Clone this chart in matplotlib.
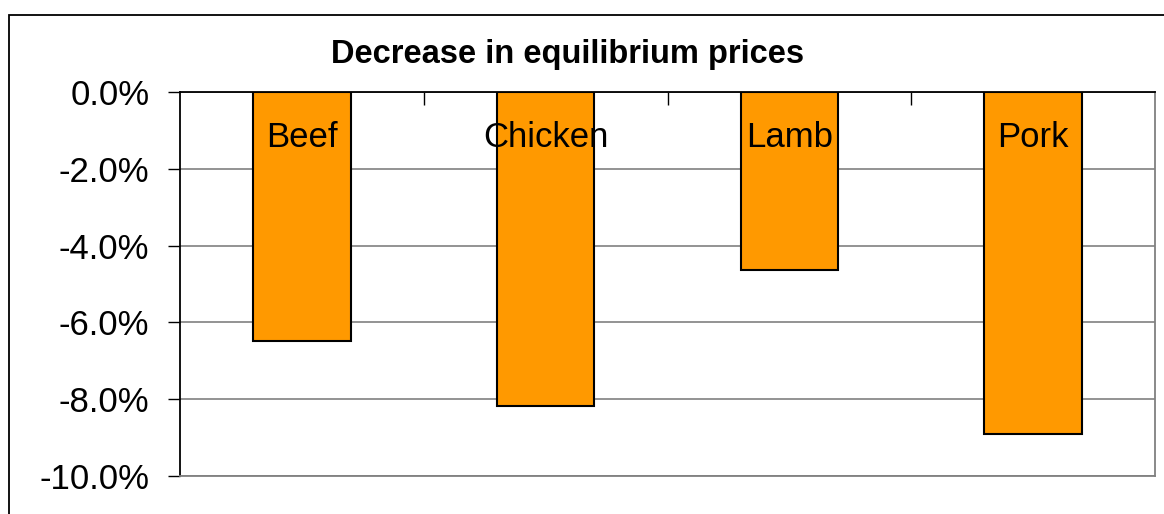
import matplotlib.pyplot as plt
from matplotlib.patches import Rectangle
from matplotlib.ticker import FuncFormatter, FixedLocator

# === Data ===
meats = ["Beef", "Chicken", "Lamb", "Pork"]
price_change = [-6.48, -8.18, -4.64, -8.91]  # percent

plt.rcParams["font.family"] = ["Liberation Sans", "DejaVu Sans"]

fig = plt.figure(figsize=(11.64, 5.14), dpi=100)
ax = fig.add_axes([180 / 1164, 1 - 476 / 514, 975 / 1164, 384 / 514])

x = range(len(meats))
ax.bar(x, price_change, width=0.40, color="#FF9900", edgecolor="black",
       linewidth=1.5, zorder=3)

# category labels sit inside the bars, just below the zero line
for i, name in enumerate(meats):
    ax.annotate(name, (i, 0), xytext=(0, -33), textcoords="offset points",
                ha="center", va="center", fontsize=25, zorder=4)

ax.set_xlim(-0.5, len(meats) - 0.5)
ax.set_ylim(-10, 0)
ax.set_yticks([0, -2, -4, -6, -8, -10])
ax.yaxis.set_major_formatter(FuncFormatter(lambda v, p: f"{v:.1f}%"))
ax.tick_params(axis="y", labelsize=25, length=9, width=1, pad=13, color="black")
ax.grid(axis="y", color="#808080", linewidth=1.2, zorder=0)

# x axis lives on top, with tick marks between categories
ax.xaxis.tick_top()
ax.xaxis.set_major_locator(FixedLocator([0.5, 1.5, 2.5]))
ax.tick_params(axis="x", direction="in", length=9, width=1, labeltop=False,
               labelbottom=False)

ax.spines["left"].set_color("black")
ax.spines["top"].set_color("black")
ax.spines["right"].set_color("#808080")
ax.spines["bottom"].set_color("#808080")
for s in ax.spines.values():
    s.set_linewidth(1.3)

fig.text(568 / 1164, 1 - 54 / 514, "Decrease in equilibrium prices",
         ha="center", va="center", fontsize=23.5, fontweight="bold")

# outer chart frame (cut off on right and bottom)
fig.add_artist(Rectangle((9 / 1164, -0.1), 1.2, 1 - 15 / 514 + 0.1,
                         transform=fig.transFigure, fill=False,
                         edgecolor="black", linewidth=1.3))

fig.savefig("out.png", dpi=100)
